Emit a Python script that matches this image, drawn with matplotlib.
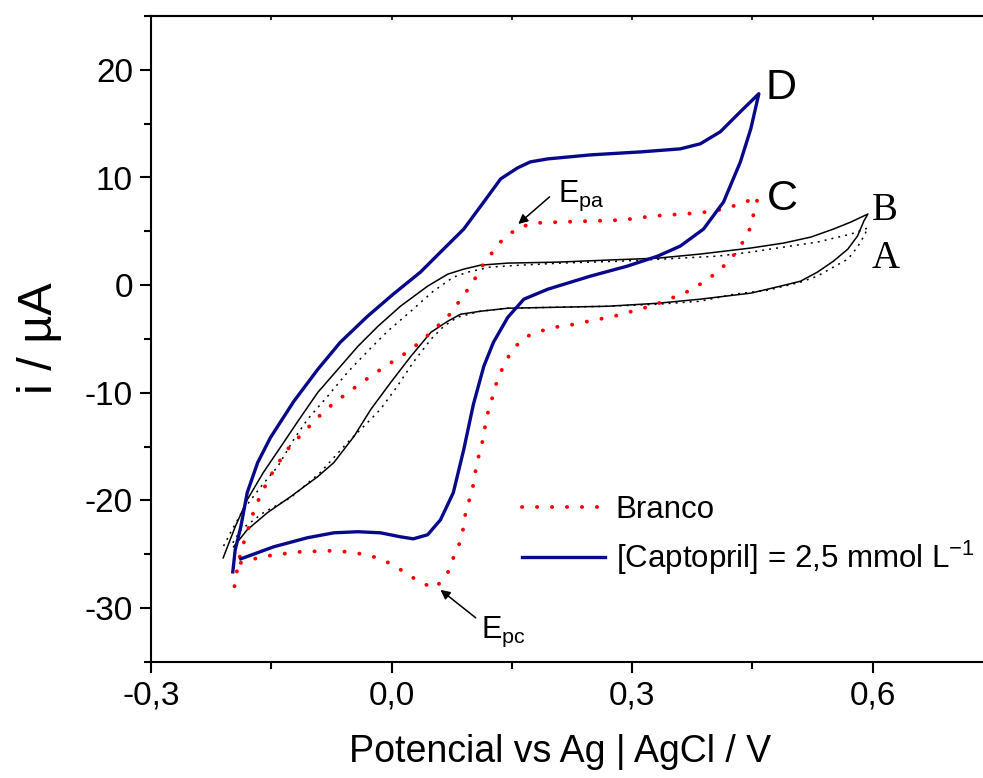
import matplotlib
matplotlib.use('Agg')
import matplotlib.pyplot as plt
import numpy as np

plt.rcParams['font.family'] = ['Liberation Sans', 'DejaVu Sans']
plt.rcParams['axes.unicode_minus'] = False
plt.rcParams['mathtext.fontset'] = 'custom'
plt.rcParams['mathtext.rm'] = 'Liberation Sans'
plt.rcParams['mathtext.it'] = 'Liberation Sans:italic'
plt.rcParams['mathtext.bf'] = 'Liberation Sans:bold'

# ---------------- data (E / V vs Ag|AgCl, i / uA) ----------------
# Curve A: black dotted
A_E = [-0.198, -0.188, -0.160, -0.126, -0.089, -0.055, -0.030, -0.014, 0.007, 0.027,
       0.049, 0.065, 0.082, 0.111, 0.145, 0.207, 0.269, 0.332, 0.385, 0.427,
       0.469, 0.510, 0.531, 0.551, 0.569, 0.581, 0.589, 0.594,
       0.573, 0.531, 0.489, 0.448, 0.407, 0.360, 0.286, 0.211, 0.161, 0.123,
       0.095, 0.077, 0.052, 0.024, -0.005, -0.030, -0.055, -0.080, -0.105, -0.122,
       -0.142, -0.163, -0.185, -0.201, -0.210]
A_i = [-23.93, -22.72, -21.14, -19.74, -17.41, -14.62, -12.76, -11.55, -9.40, -7.17,
       -5.03, -3.82, -2.98, -2.42, -2.14, -2.05, -1.96, -1.77, -1.49, -0.84,
       -0.47, 0.28, 0.84, 1.68, 2.42, 3.54, 4.56, 5.31,
       4.75, 4.00, 3.54, 3.07, 2.70, 2.51, 2.23, 2.05, 1.86, 1.68,
       1.21, 0.74, -0.56, -2.42, -4.28, -6.15, -8.10, -10.34, -12.48, -14.34,
       -16.85, -18.72, -20.86, -23.00, -24.30]

# Curve B: black solid
B_E = [-0.197, -0.180, -0.155, -0.126, -0.092, -0.072, -0.047, -0.026, -0.001, 0.024,
       0.049, 0.070, 0.086, 0.111, 0.145, 0.207, 0.269, 0.332, 0.385, 0.448,
       0.485, 0.510, 0.531, 0.551, 0.569, 0.581, 0.589, 0.594,
       0.573, 0.551, 0.523, 0.489, 0.448, 0.385, 0.332, 0.269, 0.207, 0.145,
       0.111, 0.090, 0.070, 0.045, 0.011, -0.017, -0.042, -0.067, -0.092, -0.117,
       -0.138, -0.160, -0.180, -0.195, -0.210]
B_i = [-24.30, -22.72, -21.14, -19.65, -17.78, -16.48, -14.06, -11.55, -9.03, -6.61,
       -4.38, -3.35, -2.70, -2.42, -2.14, -2.05, -1.96, -1.68, -1.30, -0.74,
       -0.09, 0.37, 1.21, 2.23, 3.35, 4.56, 5.96, 6.61,
       5.87, 5.21, 4.47, 3.91, 3.45, 2.89, 2.51, 2.33, 2.14, 2.05,
       1.86, 1.49, 1.02, -0.09, -1.96, -3.82, -5.68, -7.82, -9.96, -12.66,
       -14.99, -17.41, -19.93, -22.44, -25.33]

# Curve C: Branco (red dotted)
C_E = [-0.188, -0.167, -0.147, -0.114, -0.076, -0.055, -0.039, -0.017, -0.001, 0.020,
       0.036, 0.055, 0.070, 0.077, 0.084, 0.089, 0.092, 0.097, 0.102, 0.105,
       0.109, 0.114, 0.117, 0.121, 0.127, 0.132, 0.140, 0.150, 0.166, 0.185,
       0.203, 0.222, 0.239, 0.258, 0.277, 0.296, 0.314, 0.333, 0.352, 0.370,
       0.389, 0.408, 0.425, 0.438, 0.448, 0.452, 0.457,
       0.438, 0.419, 0.402, 0.382, 0.363, 0.326, 0.288, 0.251, 0.213, 0.177,
       0.158, 0.140, 0.125, 0.112, 0.101, 0.087, 0.074, 0.056, 0.037, 0.019,
       0.000, -0.019, -0.037, -0.056, -0.074, -0.092, -0.110, -0.127, -0.141, -0.153,
       -0.161, -0.170, -0.176, -0.182, -0.188, -0.192, -0.195, -0.198]
C_i = [-25.79, -25.33, -25.05, -24.77, -24.67, -24.77, -24.95, -25.33, -25.88, -26.82,
       -27.65, -28.12, -26.72, -25.33, -24.12, -22.72, -21.32, -19.93, -18.53, -17.13,
       -15.74, -14.34, -12.94, -11.55, -10.15, -8.75, -7.45, -6.05, -4.84, -4.28,
       -3.91, -3.72, -3.45, -3.17, -2.89, -2.51, -2.14, -1.68, -1.12, -0.56,
       0.28, 1.30, 2.61, 4.00, 5.40, 6.80, 8.19,
       7.64, 7.17, 6.89, 6.70, 6.61, 6.42, 6.05, 5.96, 5.87, 5.77,
       5.31, 4.38, 2.98, 1.68, 0.19, -1.21, -2.61, -3.91, -5.21, -6.24,
       -7.17, -8.10, -9.03, -10.06, -11.08, -12.29, -13.69, -14.99, -16.48, -17.97,
       -19.18, -20.58, -21.97, -23.37, -24.77, -26.16, -27.56, -28.96]

# Curve D: [Captopril] = 2,5 mmol/L (blue solid)
D_E = [-0.188, -0.147, -0.105, -0.072, -0.042, -0.014, 0.011, 0.027, 0.045, 0.061,
       0.077, 0.090, 0.102, 0.115, 0.127, 0.145, 0.165, 0.195, 0.248, 0.294,
       0.332, 0.360, 0.389, 0.414, 0.435, 0.448, 0.458,
       0.435, 0.410, 0.385, 0.360, 0.311, 0.248, 0.195, 0.173, 0.157, 0.136,
       0.115, 0.090, 0.061, 0.036, 0.002, -0.030, -0.064, -0.092, -0.122, -0.151,
       -0.167, -0.180, -0.188, -0.195, -0.198]
D_i = [-25.42, -24.30, -23.46, -23.00, -22.90, -23.00, -23.37, -23.56, -23.18, -21.79,
       -19.27, -15.27, -11.08, -7.54, -5.31, -2.98, -1.30, -0.37, 0.84, 1.77,
       2.70, 3.63, 5.21, 7.73, 11.45, 14.53, 17.78,
       16.11, 14.25, 13.13, 12.66, 12.38, 12.10, 11.73, 11.45, 10.89, 9.87,
       7.73, 5.21, 3.07, 1.21, -0.84, -2.89, -5.31, -7.82, -10.80, -14.15,
       -16.48, -19.27, -22.44, -24.58, -26.63]

x_ticks = [-0.3, 0.0, 0.3, 0.6]
x_tick_labels = ['-0,3', '0,0', '0,3', '0,6']
x_minor = [-0.15, 0.15, 0.45, 0.75]
y_ticks = [-30, -20, -10, 0, 10, 20]
y_tick_labels = ['-30', '-20', '-10', '0', '10', '20']
y_minor = [-35, -25, -15, -5, 5, 15, 25]

legend_labels = ['Branco', r'[Captopril] = 2,5 mmol L$^{\mathregular{-1}}$']

# ---------------- figure ----------------
W, H = 983, 778
fig = plt.figure(figsize=(W / 100, H / 100), dpi=100)
ax = fig.add_axes([151 / W, 116 / H, 842 / W, 646 / H])

ax.plot(A_E, A_i, color='black', lw=1.1, linestyle=(0, (1.3, 3.3)))
ax.plot(B_E, B_i, color='black', lw=1.1, linestyle='-')
lc, = ax.plot(C_E, C_i, color='#ff0000', lw=2.8, linestyle=(0, (0.05, 3.8)),
              dash_capstyle='round', solid_capstyle='round')
ld, = ax.plot(D_E, D_i, color='#08088a', lw=2.4, linestyle='-')

ax.set_xlim(-0.3, 0.75)
ax.set_ylim(-35, 25)
ax.set_xticks(x_ticks)
ax.set_xticklabels(x_tick_labels)
ax.set_xticks(x_minor, minor=True)
ax.set_yticks(y_ticks)
ax.set_yticklabels(y_tick_labels)
ax.set_yticks(y_minor, minor=True)

ax.spines['right'].set_visible(False)
for s in ['left', 'bottom', 'top']:
    ax.spines[s].set_linewidth(1.5)
ax.tick_params(which='major', direction='out', length=8, width=1.5,
               labelsize=24, pad=5)
ax.tick_params(which='minor', direction='out', length=5, width=1.5)

sec = ax.secondary_xaxis('top')
sec.set_xticks([-0.3, -0.15, 0.0, 0.15, 0.3, 0.45, 0.6, 0.75])
sec.tick_params(direction='in', length=3, width=1.2, labeltop=False)
sec.spines['top'].set_linewidth(1.5)

fig.text(560 / W, (H - 752) / H, 'Potencial vs Ag | AgCl / V', fontsize=27,
         ha='center', va='center')
fig.text(40 / W, (H - 338) / H, 'i / µA', fontsize=35, rotation=90,
         ha='center', va='center')

# curve labels
ax.text(0.466, 17.3, 'D', fontsize=31, ha='left', va='baseline')
ax.text(0.468, 6.98, 'C', fontsize=31, ha='left', va='baseline')
ax.text(0.599, 6.05, 'B', fontsize=28, ha='left', va='baseline',
        family='Liberation Serif')
ax.text(0.599, 1.58, 'A', fontsize=28, ha='left', va='baseline',
        family='Liberation Serif')

# peak annotations
ax.text(0.2075, 7.73, r'E$_{\mathregular{pa}}$', fontsize=22, ha='left', va='baseline')
ax.annotate('', xy=(0.158, 5.68), xytext=(0.197, 8.2),
            arrowprops=dict(arrowstyle='-|>', color='black', lw=1.1,
                            mutation_scale=14, shrinkA=0, shrinkB=0))
ax.text(0.111, -32.77, r'E$_{\mathregular{pc}}$', fontsize=22, ha='left', va='baseline')
ax.annotate('', xy=(0.061, -28.3), xytext=(0.105, -30.9),
            arrowprops=dict(arrowstyle='-|>', color='black', lw=1.1,
                            mutation_scale=14, shrinkA=0, shrinkB=0))

ax.legend([lc, ld], legend_labels, loc='upper left',
          bbox_to_anchor=(522 / W, (H - 495) / H), bbox_transform=fig.transFigure,
          frameon=False, borderpad=0, borderaxespad=0, handlelength=2.65,
          handletextpad=0.35, labelspacing=0.45, fontsize=22.5)

fig.savefig('out.png', dpi=100)
